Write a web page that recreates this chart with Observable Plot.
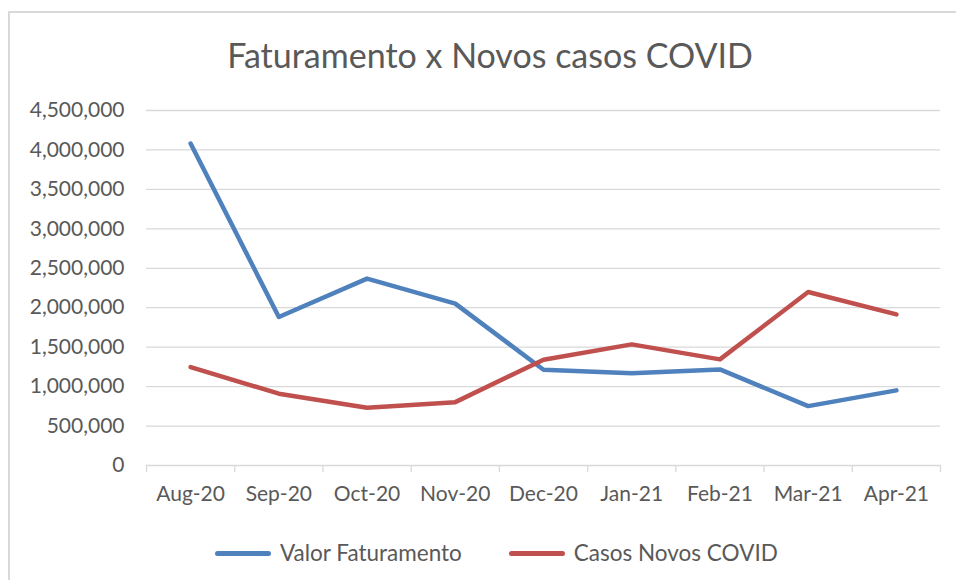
<!DOCTYPE html>
<html>
<head>
<meta charset="utf-8">
<script src="https://cdn.jsdelivr.net/npm/d3@7"></script>
<script src="https://cdn.jsdelivr.net/npm/@observablehq/plot@0.6"></script>
<style>
  html, body { margin: 0; padding: 0; background: #fff; width: 956px; height: 580px; overflow: hidden; font-family: Lato, "Open Sans", sans-serif; }
  #frame { position: absolute; left: 8px; top: 11px; width: 980px; height: 620px; border: 2px solid #d9d9d9; box-sizing: border-box; }
  #title { position: absolute; left: 0; top: 38px; width: 980px; text-align: center; font-size: 34px; line-height: 1; color: #595959; }
  #chart { position: absolute; left: 0; top: 90px; }
  #legend { position: absolute; left: 215px; top: 540px; display: flex; align-items: center; font-size: 22.5px; color: #595959; line-height: 26px; }
  .sw { width: 56px; height: 5px; border-radius: 3px; margin-right: 9px; }
  .item { display: flex; align-items: center; }
</style>
</head>
<body>
<div id="frame"></div>
<div id="title">Faturamento x Novos casos COVID</div>
<div id="chart"></div>
<div id="legend"></div>
<script>
const months = ["Aug-20","Sep-20","Oct-20","Nov-20","Dec-20","Jan-21","Feb-21","Mar-21","Apr-21"];
const faturamento = [4082000, 1882000, 2369000, 2052000, 1214000, 1168000, 1218000, 753000, 952000];
const casos = [1248000, 910000, 732000, 803000, 1341000, 1535000, 1345000, 2199000, 1916000];
const seriesNames = ["Valor Faturamento", "Casos Novos COVID"];
const seriesColors = ["#4f81bd", "#c0504d"];
const yTicks = d3.range(0, 4500001, 500000);

const data = [];
months.forEach((m, i) => {
  data.push({i, month: m, series: seriesNames[0], value: faturamento[i]});
  data.push({i, month: m, series: seriesNames[1], value: casos[i]});
});
const idx = d3.range(months.length);
const bounds = d3.range(months.length + 1).map(k => k - 0.5);

const plot = Plot.plot({
  width: 956,
  height: 430,
  marginTop: 20,
  marginBottom: 55,
  marginLeft: 146,
  marginRight: 16,
  style: {fontFamily: "Lato, 'Open Sans', sans-serif", color: "#595959", background: "transparent"},
  x: {type: "linear", domain: [-0.5, months.length - 0.5]},
  y: {domain: [0, 4500000]},
  color: {domain: seriesNames, range: seriesColors},
  marks: [
    Plot.gridY(yTicks, {stroke: "#d9d9d9", strokeOpacity: 1, strokeWidth: 1.3}),
    Plot.axisY({ticks: yTicks, tickFormat: d3.format(","), tickSize: 0, tickPadding: 22, fontSize: 21, fill: "#595959", label: null}),
    Plot.axisX({ticks: bounds, tickFormat: () => "", tickSize: 7, stroke: "#d9d9d9", strokeWidth: 1.3, label: null}),
    Plot.axisX({ticks: idx, tickFormat: i => months[i], tickSize: 0, tickPadding: 21, fontSize: 21, fill: "#595959", label: null}),
    Plot.line(data, {x: "i", y: "value", z: "series", stroke: "series", strokeWidth: 4.5, strokeLinecap: "round", strokeLinejoin: "round"})
  ]
});
document.getElementById("chart").appendChild(plot);

const legend = document.getElementById("legend");
seriesNames.forEach((name, k) => {
  const item = document.createElement("div");
  item.className = "item";
  if (k > 0) item.style.marginLeft = "47px";
  const sw = document.createElement("div");
  sw.className = "sw";
  sw.style.background = seriesColors[k];
  const t = document.createElement("span");
  t.textContent = name;
  item.appendChild(sw);
  item.appendChild(t);
  legend.appendChild(item);
});
</script>
</body>
</html>
